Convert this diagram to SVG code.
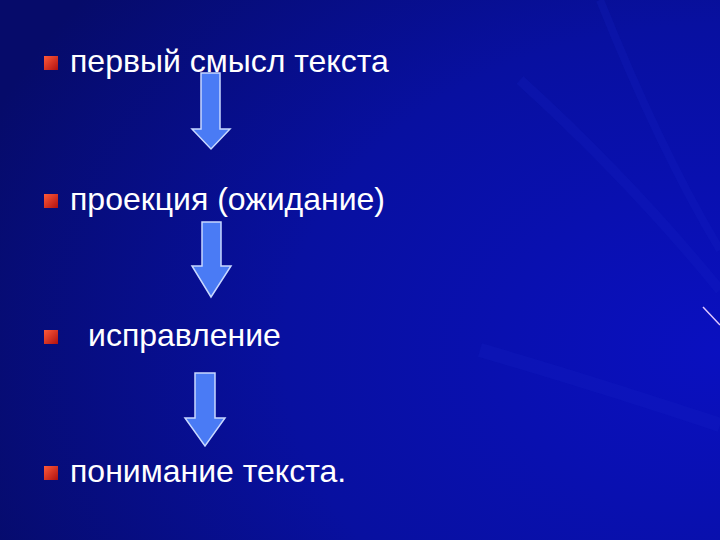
<svg xmlns="http://www.w3.org/2000/svg" width="720" height="540" viewBox="0 0 720 540">
<defs>
<radialGradient id="bg" cx="1" cy="0.65" r="1.1">
<stop offset="0" stop-color="#0a10c0"/>
<stop offset="0.55" stop-color="#0810a0"/>
<stop offset="1" stop-color="#060b6a"/>
</radialGradient>
<linearGradient id="bul" x1="0" y1="0" x2="1" y2="1">
<stop offset="0" stop-color="#ff5a3a"/>
<stop offset="1" stop-color="#b01010"/>
</linearGradient>
<style>
.t{font-family:"Liberation Sans",Arial,sans-serif;font-size:32px;fill:#ffffff}
.a{fill:#4a7bf5;stroke:#c8d8ff;stroke-width:1.5}
.ray{fill:none;stroke:#1a28c8;stroke-opacity:0.2}
</style>
</defs>
<rect width="720" height="540" fill="url(#bg)"/>
<path class="ray" stroke-width="14" d="M480 350 Q600 385 720 425"/>
<path class="ray" stroke-width="10" d="M520 80 Q630 180 720 290"/>
<path class="ray" stroke-width="8" d="M600 0 Q660 150 720 250"/>
<line x1="703" y1="307" x2="720" y2="325" stroke="#e0c8ff" stroke-width="1.5"/>
<g id="n1"><rect x="44" y="56" width="14" height="14" fill="url(#bul)"/><text class="t" x="70" y="72">первый смысл текста</text></g>
<g id="n2"><rect x="44" y="194" width="14" height="14" fill="url(#bul)"/><text class="t" x="70" y="210">проекция (ожидание)</text></g>
<g id="n3"><rect x="44" y="330" width="14" height="14" fill="url(#bul)"/><text class="t" x="88" y="346">исправление</text></g>
<g id="n4"><rect x="44" y="466" width="14" height="14" fill="url(#bul)"/><text class="t" x="70" y="482">понимание текста.</text></g>
<g id="connectors">
<path class="a" d="M201 73 H220 V129 H230 L211 149 L192 129 H201 Z"/>
<path class="a" d="M202 222 H221 V266 H231 L211 297 L192 266 H202 Z"/>
<path class="a" d="M195 373 H215 V418 H225 L205 446 L185 418 H195 Z"/>
</g>
</svg>
